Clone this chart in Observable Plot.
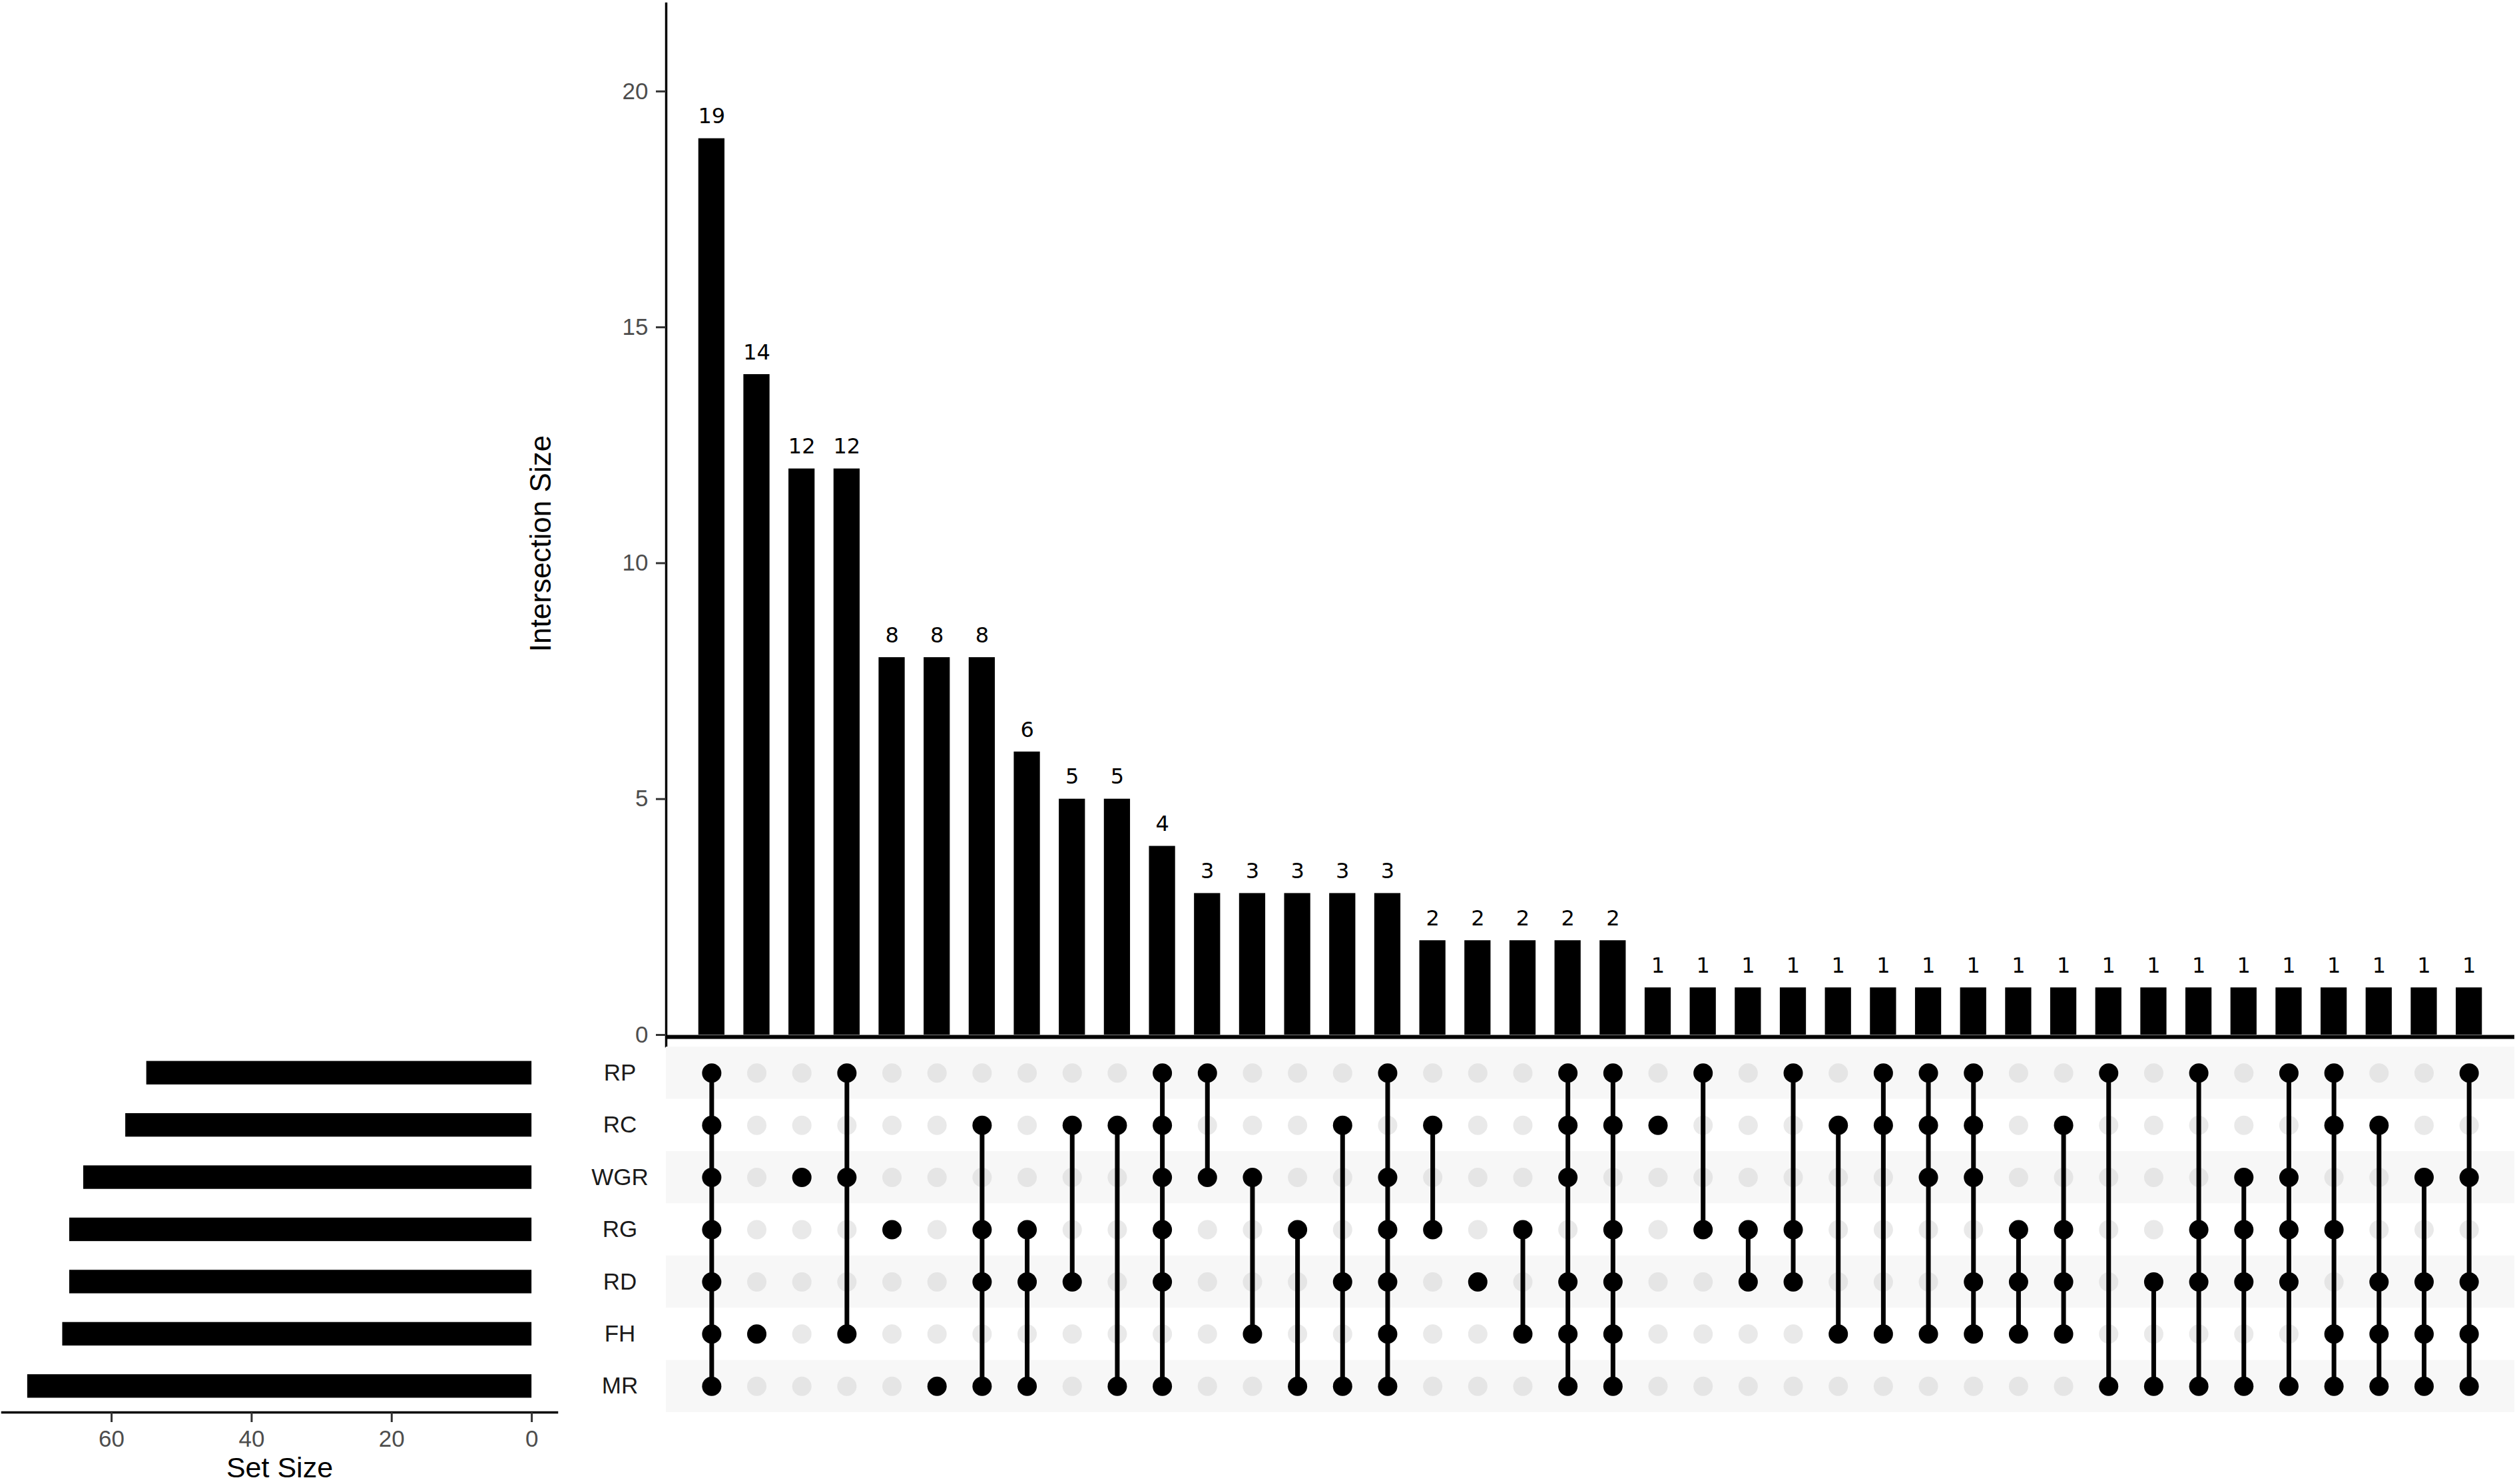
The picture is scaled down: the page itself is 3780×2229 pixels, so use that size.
<!DOCTYPE html>
<html>
<head>
<meta charset="utf-8">
<script src="https://cdn.jsdelivr.net/npm/d3@7"></script>
<script src="https://cdn.jsdelivr.net/npm/@observablehq/plot@0.6"></script>
<style>
  html, body { margin: 0; padding: 0; background: white; }
  #chart { position: relative; width: 3780px; height: 2229px; background: white; overflow: hidden; }
  #chart svg { position: absolute; }
</style>
</head>
<body>
<div id="chart"></div>
<script>
// ---- data ----
const sets = ["RP", "RC", "WGR", "RG", "RD", "FH", "MR"];
const setSizes = [55, 58, 64, 66, 66, 67, 72];
const counts = [19, 14, 12, 12, 8, 8, 8, 6, 5, 5, 4, 3, 3, 3, 3, 3, 2, 2, 2, 2, 2,
  1, 1, 1, 1, 1, 1, 1, 1, 1, 1, 1, 1, 1, 1, 1, 1, 1, 1, 1];
const members = [
  "RP RC WGR RG RD FH MR", "FH", "WGR", "RP WGR FH", "RG", "MR", "RC RG RD MR",
  "RG RD MR", "RC RD", "RC MR", "RP RC WGR RG RD MR", "RP WGR", "WGR FH", "RG MR",
  "RC RD MR", "RP WGR RG RD FH MR", "RC RG", "RD", "RG FH", "RP RC WGR RD FH MR",
  "RP RC RG RD FH MR", "RC", "RP RG", "RG RD", "RP RG RD", "RC FH", "RP RC FH",
  "RP RC WGR FH", "RP RC WGR RD FH", "RG RD FH", "RC RG RD FH", "RP MR", "RD MR",
  "RP RG RD MR", "WGR RG RD MR", "RP WGR RG RD MR", "RP RC RG FH MR", "RC RD FH MR",
  "WGR RD FH MR", "RP WGR RD FH MR"
];
const yTicksTop = [0, 5, 10, 15, 20];
const xTicksSet = [0, 20, 40, 60];

// ---- derived tables ----
const idx = d3.range(counts.length);
const inter = counts.map((c, i) => ({i, count: c, sets: members[i].split(" ")}));
const filled = inter.flatMap(d => d.sets.map(s => ({i: d.i, set: s})));
const empty = inter.flatMap(d => sets.filter(s => !d.sets.includes(s)).map(s => ({i: d.i, set: s})));
const links = inter.filter(d => d.sets.length > 1).map(d => {
  const ord = d.sets.map(s => sets.indexOf(s)).sort((a, b) => a - b);
  return {i: d.i, top: sets[ord[0]], bottom: sets[ord[ord.length - 1]]};
});
const stripes = sets.filter((s, k) => k % 2 === 0);
const setData = sets.map((s, k) => ({set: s, size: setSizes[k]}));

const FONT = "Liberation Sans, Arial, sans-serif";
const xBand = {type: "band", domain: idx, paddingInner: 0.42, paddingOuter: 0.72, align: 0.5, round: false, axis: null};
const ROW_STEP = 549 / sets.length;

const chartDiv = document.getElementById("chart");
function place(svg, x, y) {
  svg.style.left = x + "px";
  svg.style.top = y + "px";
  chartDiv.appendChild(svg);
}

// ---- top: intersection size bars ----
const barsPlot = Plot.plot({
  width: 3780, height: 1600,
  marginLeft: 1000, marginRight: 4, marginTop: 5, marginBottom: 29,
  style: {background: "transparent", fontFamily: FONT},
  x: xBand,
  y: {domain: [-0.24, 21.86], axis: null},
  marks: [
    Plot.barY(inter, {x: "i", y1: 0, y2: "count", fill: "black"}),
    Plot.ruleY([0], {stroke: "black", strokeWidth: 6, dy: 3}),
    Plot.frame({anchor: "left", stroke: "black", strokeWidth: 3.5}),
    Plot.axisY({ticks: yTicksTop, tickSize: 15, tickPadding: 12, fontSize: 35,
      stroke: "#333", strokeWidth: 3, fill: "#4d4d4d", label: null}),
    Plot.text(inter, {x: "i", y: "count", text: d => String(d.count), dy: -33,
      fontSize: 32, fontFamily: "DejaVu Sans", fill: "black"}),
    Plot.text(["Intersection Size"], {frameAnchor: "left", dx: -188, dy: 28, rotate: -90,
      textAnchor: "middle", lineAnchor: "middle", text: d => d, fontSize: 44, fill: "black"})
  ]
});
place(barsPlot, 0, 0);

// ---- matrix ----
const matrixPlot = Plot.plot({
  width: 2780, height: 552,
  marginLeft: 0, marginRight: 4, marginTop: 1, marginBottom: 2,
  style: {background: "transparent", fontFamily: FONT},
  x: xBand,
  y: {type: "band", domain: sets, padding: 0, round: false, axis: null},
  marks: [
    Plot.cell(stripes, {y: d => d, fill: "#f7f7f7"}),
    Plot.dot(empty, {x: "i", y: "set", r: 14.5, fill: "#d4d4d4", fillOpacity: 0.5, stroke: null}),
    Plot.ruleX(links, {x: "i", y1: "top", y2: "bottom", stroke: "black", strokeWidth: 7,
      insetTop: ROW_STEP / 2, insetBottom: ROW_STEP / 2}),
    Plot.dot(filled, {x: "i", y: "set", r: 14.5, fill: "black", stroke: null})
  ]
});
place(matrixPlot, 1000, 1571);

// ---- left: set size bars ----
const setPlot = Plot.plot({
  width: 1000, height: 658,
  marginLeft: 3, marginRight: 164, marginTop: 1, marginBottom: 108,
  style: {background: "transparent", fontFamily: FONT},
  x: {domain: [-3.6, 75.6], reverse: true, axis: null},
  y: {type: "band", domain: sets, paddingInner: 0.55, paddingOuter: 0.275, round: false, axis: null},
  marks: [
    Plot.barX(setData, {y: "set", x1: 0, x2: "size", fill: "black"}),
    Plot.frame({anchor: "bottom", stroke: "black", strokeWidth: 3.5}),
    Plot.axisX({ticks: xTicksSet, tickSize: 15, tickPadding: 12, fontSize: 35,
      stroke: "#333", strokeWidth: 3, fill: "#4d4d4d", label: null}),
    Plot.text(["Set Size"], {frameAnchor: "bottom", dy: 84, text: d => d,
      textAnchor: "middle", lineAnchor: "middle", fontSize: 43, fill: "black"}),
    Plot.text(sets, {y: d => d, text: d => d, frameAnchor: "right", dx: 94.5,
      textAnchor: "middle", lineAnchor: "middle", fontSize: 35, fill: "#1a1a1a"})
  ]
});
place(setPlot, 0, 1571);
</script>
</body>
</html>
